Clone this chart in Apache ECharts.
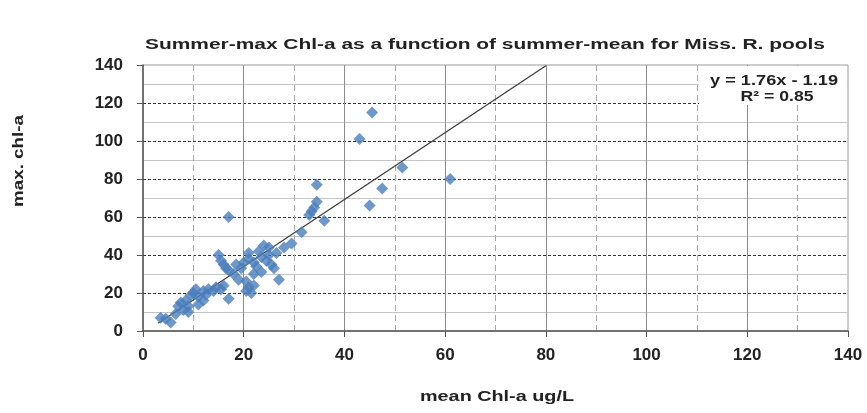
<!DOCTYPE html>
<html><head><meta charset="utf-8">
<script src="https://cdn.jsdelivr.net/npm/echarts@6/dist/echarts.min.js"></script>
<style>html,body{margin:0;padding:0;background:#fff}#c{width:867px;height:413px}</style>
</head><body><div id="c"></div>
<script>
// ---- data ----
const meanChl = [3.5,4.5,5.5,6.5,7,7.5,8,8.5,9,9.5,10,10.5,11,11,12,12.5,13,14,14.5,15.5,16,
  15,15.5,16,16.5,17,18,17,17,19,19.5,20,20.5,20.5,21,21.5,22,21,21,22,22.5,23,23.5,24,23.5,24.5,25,25.5,26,26.5,27,28,22,18.5,
  29.5,31.5,33,33.5,34,34.5,34.5,36,43,45.5,45,47.5,51.5,61,12,9,25];
const maxChl = [7,6.5,4.5,9,13,15,11,16,13,19,20,22,14,18,21,19,22,21,23,22,24,
  40,37,35,33,32,30,17,60,27,33,36,21,26,23,20,24,41,38,36,34,42,39,45,31,37,44,35,33,41,27,44,30,35,
  46,52,61,63,65,68,77,58,101,115,66,75,86,80,16,10,40];
const trendSlope = 1.76, trendIntercept = -1.19, trendXRange = [3, 80];
const titleText = 'Summer-max Chl-a as a function of summer-mean for Miss. R. pools';
const xName = 'mean Chl-a ug/L', yName = 'max. chl-a';
const eqLines = ['y = 1.76x - 1.19', 'R\u00B2 = 0.85'];
const axisMin = 0, axisMax = 140, axisStep = 20;

const pts = meanChl.map((x,i)=>[x, maxChl[i]]);
const trend = trendXRange.map(x=>[x, trendSlope*x + trendIntercept]);

const ctx = document.createElement('canvas').getContext('2d');
function w(t, font){ ctx.font = font; return ctx.measureText(t).width; }
const FF = '"Liberation Sans", Arial, sans-serif';
function stretchText(text, size, target, x, y, extra){
  const font = 'bold ' + size + 'px ' + FF;
  const s = target / w(text, font);
  return Object.assign({type:'text', x:x, y:y, scaleX:s, z:100,
    style:{text:text, font:font, fill:'#222', textAlign:'center', textVerticalAlign:'middle'}}, extra||{});
}

const chart = echarts.init(document.getElementById('c'));
chart.setOption({
  animation:false,
  grid:{left:143, right:19, top:65, bottom:82, show:true, borderColor:'#9a9a9a', borderWidth:1},
  xAxis:{type:'value', min:axisMin, max:axisMax, interval:axisStep,
    axisLine:{show:true, onZero:false, lineStyle:{color:'#555', width:1.5}},
    axisTick:{show:true, length:6, lineStyle:{color:'#555'}},
    axisLabel:{fontSize:17, fontWeight:'bold', color:'#222', margin:16, fontFamily:FF},
    splitLine:{show:true, showMinLine:false, showMaxLine:false, lineStyle:{color:'#8c8c8c', width:1}},
    minorTick:{show:false, splitNumber:2},
    minorSplitLine:{show:true, lineStyle:{color:'#a8a8a8', type:[6,4], width:1}}
  },
  yAxis:{type:'value', min:axisMin, max:axisMax, interval:axisStep,
    axisLine:{show:true, onZero:false, lineStyle:{color:'#555', width:1.5}},
    axisTick:{show:true, length:6, lineStyle:{color:'#555'}},
    axisLabel:{fontSize:17, fontWeight:'bold', color:'#222', margin:20, fontFamily:FF},
    splitLine:{show:true, showMinLine:false, showMaxLine:false, lineStyle:{color:'#333', width:1.2, type:[3,2]}},
    minorTick:{show:false, splitNumber:2},
    minorSplitLine:{show:true, lineStyle:{color:'#c4c4c4', width:1}}
  },
  series:[
    {type:'line', data:trend, symbol:'none', lineStyle:{color:'#3a3a3a', width:1.2}, z:3, silent:true},
    {type:'scatter', data:pts, symbol:'diamond', symbolSize:12, itemStyle:{color:'#4a7ebb'}, z:4}
  ],
  graphic:[
    stretchText(titleText, 14, 680, 485, 45),
    stretchText(xName, 14, 154, 497, 397),
    stretchText(yName, 14, 92, 19, 161, {rotation:Math.PI/2}),
    {type:'rect', z:90, shape:{x:699, y:66, width:148, height:39}, style:{fill:'#fff'}},
    stretchText(eqLines[0], 15, 128, 774, 81),
    stretchText(eqLines[1], 15, 73, 777, 97)
  ]
});
</script></body></html>
